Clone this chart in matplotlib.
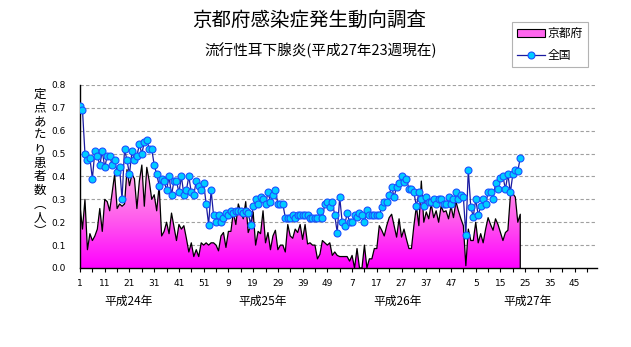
import matplotlib
matplotlib.use('Agg')
import matplotlib.pyplot as plt
import numpy as np
from matplotlib.colors import LinearSegmentedColormap
from matplotlib.lines import Line2D
from matplotlib.patches import Patch

plt.rcParams['font.family'] = ['Noto Sans CJK JP', 'DejaVu Sans']

# weekly values, 平成24年 week 1 .. 平成27年 week 23 (52 weeks per year)
kyoto = [
    0.27, 0.17, 0.30, 0.08, 0.15, 0.12, 0.14, 0.17, 0.26, 0.16,
    0.30, 0.29, 0.25, 0.33, 0.41, 0.26, 0.28, 0.27, 0.28, 0.43,
    0.36, 0.41, 0.39, 0.26, 0.38, 0.45, 0.27, 0.44, 0.38, 0.30,
    0.32, 0.25, 0.36, 0.14, 0.16, 0.20, 0.15, 0.24, 0.18, 0.12,
    0.19, 0.17, 0.185, 0.13, 0.07, 0.11, 0.05, 0.08, 0.05, 0.11,
    0.10, 0.11,
    0.10, 0.11, 0.11, 0.10, 0.075, 0.14, 0.155, 0.09, 0.16, 0.16,
    0.245, 0.19, 0.28, 0.245, 0.215, 0.29, 0.155, 0.185, 0.245, 0.10,
    0.16, 0.15, 0.25, 0.11, 0.155, 0.08, 0.14, 0.165, 0.08, 0.10,
    0.10, 0.07, 0.19, 0.14, 0.13, 0.17, 0.155, 0.19, 0.125, 0.19,
    0.105, 0.11, 0.10, 0.10, 0.04, 0.06, 0.12, 0.11, 0.10, 0.11,
    0.055, 0.07,
    0.055, 0.05, 0.05, 0.05, 0.05, 0.03, 0.055, 0.0, 0.085, 0.0,
    0.0, 0.10, 0.0, 0.04, 0.04, 0.085, 0.085, 0.185, 0.165, 0.14,
    0.185, 0.22, 0.235, 0.185, 0.135, 0.215, 0.135, 0.17, 0.125, 0.085,
    0.085, 0.185, 0.27, 0.185, 0.38, 0.20, 0.245, 0.215, 0.28, 0.22,
    0.25, 0.20, 0.27, 0.245, 0.25, 0.215, 0.27, 0.22, 0.29, 0.25,
    0.215, 0.185,
    0.01, 0.17, 0.12, 0.12, 0.20, 0.11, 0.15, 0.11, 0.17, 0.22,
    0.19, 0.165, 0.215, 0.19, 0.155, 0.12, 0.155, 0.165, 0.315, 0.325,
    0.31, 0.20, 0.235,
]

national = [
    0.71, 0.69, 0.50, 0.47, 0.48, 0.39, 0.51, 0.49, 0.45, 0.51,
    0.44, 0.49, 0.49, 0.45, 0.47, 0.42, 0.44, 0.30, 0.52, 0.47,
    0.41, 0.51, 0.47, 0.49, 0.54, 0.50, 0.55, 0.56, 0.52, 0.52,
    0.45, 0.41, 0.36, 0.39, 0.38, 0.34, 0.40, 0.32, 0.38, 0.38,
    0.33, 0.40, 0.32, 0.34, 0.40, 0.33, 0.32, 0.38, 0.36, 0.34,
    0.37, 0.28,
    0.19, 0.34, 0.23, 0.20, 0.23, 0.20, 0.22, 0.24, 0.23, 0.25,
    0.24, 0.25, 0.25, 0.25, 0.24, 0.25, 0.24, 0.19, 0.27, 0.30,
    0.28, 0.31, 0.30, 0.28, 0.33, 0.29, 0.32, 0.34, 0.28, 0.28,
    0.28, 0.22, 0.22, 0.22, 0.23, 0.22, 0.23, 0.23, 0.23, 0.23,
    0.23, 0.22, 0.22, 0.22, 0.22, 0.25, 0.22, 0.28, 0.29, 0.265,
    0.29, 0.23,
    0.155, 0.31, 0.20, 0.185, 0.24, 0.20, 0.20, 0.23, 0.225, 0.24,
    0.23, 0.20, 0.255, 0.23, 0.23, 0.23, 0.23, 0.23, 0.265, 0.29,
    0.29, 0.32, 0.355, 0.31, 0.355, 0.37, 0.40, 0.375, 0.39, 0.345,
    0.345, 0.33, 0.27, 0.33, 0.30, 0.27, 0.31, 0.29, 0.29, 0.30,
    0.28, 0.30, 0.30, 0.28, 0.28, 0.31, 0.28, 0.30, 0.33, 0.30,
    0.32, 0.31,
    0.145, 0.43, 0.265, 0.225, 0.30, 0.23, 0.27, 0.30, 0.28, 0.33,
    0.33, 0.30, 0.37, 0.345, 0.395, 0.40, 0.345, 0.41, 0.33, 0.41,
    0.43, 0.425, 0.48,
]

years = ['平成24年', '平成25年', '平成26年', '平成27年']
year_label_pos = [19.5, 74, 128.5, 181]
weeks_per_year = 52
n_slots = 209

fig = plt.figure(figsize=(6.31, 3.47), dpi=100)
ax = fig.add_axes([0.1268, 0.2277, 0.8192, 0.5274])

xk = np.arange(len(kyoto))
xn = np.arange(len(national))

# gradient filled area for Kyoto
fill = ax.fill_between(xk, 0, kyoto, facecolor='none', edgecolor='none')
cmap = LinearSegmentedColormap.from_list('pk', ['#ff00ff', '#ff60ec', '#ffb0ea'])
grad = np.linspace(0, 1, 256).reshape(-1, 1)
im = ax.imshow(grad, extent=[0, n_slots, 0, max(kyoto)], origin='lower',
               aspect='auto', cmap=cmap, zorder=1, interpolation='bilinear')
im.set_clip_path(fill.get_paths()[0], transform=ax.transData)
ax.plot(np.append(xk, xk[-1]), kyoto + [0], color='black', lw=0.9, zorder=2)

# national line
ax.plot(xn, national, color='#1a1aa0', lw=0.9, marker='o', ms=5.0,
        mfc='#00ccff', mec='#1a50ff', mew=0.8, zorder=3)

ax.set_xlim(0, n_slots)
ax.set_ylim(0, 0.8)
ax.set_yticks(np.arange(0, 0.81, 0.1))
ax.set_yticklabels([f'{v:.1f}' for v in np.arange(0, 0.81, 0.1)], fontsize=6.5,
                   family='DejaVu Sans')
for v in np.arange(0.1, 0.81, 0.1):
    ax.axhline(v, color='#a0a0a0', lw=0.8, ls=(0, (3, 2)), zorder=0)

tick_idx = np.arange(0, 201, 10)
ax.set_xticks(tick_idx)
ax.set_xticklabels([str(i % weeks_per_year + 1) for i in tick_idx], fontsize=6.5,
                   family='DejaVu Sans')
ax.set_xticks(np.arange(0, n_slots, 5), minor=True)
ax.tick_params(axis='x', which='both', direction='out', length=3, width=0.8, pad=5)
ax.tick_params(axis='y', direction='out', length=0, pad=10)

for sp in ['top', 'right']:
    ax.spines[sp].set_visible(False)
for sp in ['left', 'bottom']:
    ax.spines[sp].set_linewidth(1.0)

for pos, label in zip(year_label_pos, years):
    ax.text(pos, -0.18, label, ha='center', va='center', fontsize=8.5,
            transform=ax.get_xaxis_transform())

fig.text(0.49, 0.94, '京都府感染症発生動向調査', ha='center', va='center', fontsize=14)
fig.text(0.508, 0.855, '流行性耳下腺炎(平成27年23週現在)', ha='center', va='center',
         fontsize=10.5)

ylabel = '定\n点\nあ\nた\nり\n患\n者\n数\n︵\n人\n︶'
fig.text(0.063, 0.53, ylabel, ha='center', va='center', fontsize=9, linespacing=1.08)

handles = [Patch(facecolor='#ff66ee', edgecolor='black', lw=0.8),
           Line2D([], [], color='#1a1aa0', lw=0.9, marker='o', ms=5.0,
                  mfc='#00ccff', mec='#1a50ff', mew=0.8)]
leg = fig.legend(handles, ['京都府', '全国'], loc='upper right',
                 bbox_to_anchor=(0.932, 0.937), fontsize=8.5, frameon=True,
                 fancybox=False, edgecolor='#a0a0a0', handlelength=2.4,
                 handleheight=0.6, borderpad=0.45, labelspacing=0.75,
                 handletextpad=0.2, borderaxespad=0)
leg.get_frame().set_linewidth(0.8)

fig.savefig('out.png', dpi=100)
